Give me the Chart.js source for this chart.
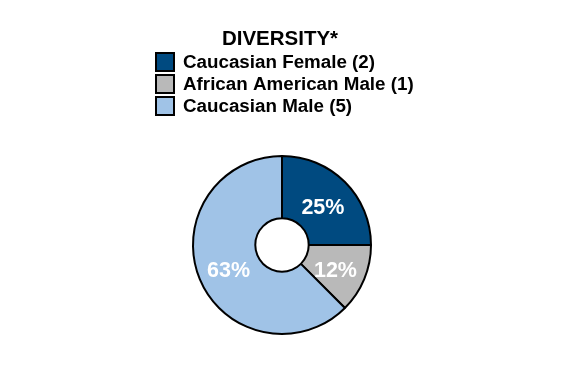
<!DOCTYPE html>
<html>
<head>
<meta charset="utf-8">
<script src="https://cdn.jsdelivr.net/npm/chart.js@4"></script>
<style>
  html, body { margin: 0; padding: 0; background: #ffffff; }
  #wrap { position: relative; width: 564px; height: 386px; }
</style>
</head>
<body>
<div id="wrap"><canvas id="diversityChart" width="564" height="386"></canvas></div>
<script>
// Data chart keanekaragaman
const chartTitle = 'DIVERSITY*';
const categories = ['Caucasian Female (2)', 'African American Male (1)', 'Caucasian Male (5)'];
const counts = [2, 1, 5];
const pctLabels = ['25%', '12%', '63%'];
const sliceColors = ['#004A80', '#B9B9B9', '#A0C3E7'];

const FONT = '"Liberation Sans", Arial, sans-serif';

// Plugin: judul + legenda vertikal di atas donat
const legendPlugin = {
    id: 'legendManual',
    afterDraw(chart) {
        const ctx = chart.ctx;
        ctx.save();
        ctx.fillStyle = '#000';
        ctx.font = 'bold 20.5px ' + FONT;
        ctx.textAlign = 'center';
        ctx.textBaseline = 'alphabetic';
        ctx.fillText(chartTitle, 280, 45);

        ctx.font = 'bold 18.8px ' + FONT;
        ctx.textAlign = 'left';
        categories.forEach((label, i) => {
            const top = 53 + i * 22;
            ctx.fillStyle = sliceColors[i];
            ctx.fillRect(156, top, 18, 18);
            ctx.lineWidth = 2;
            ctx.strokeStyle = '#000';
            ctx.strokeRect(156, top, 18, 18);
            ctx.fillStyle = '#000';
            ctx.fillText(label, 183, top + 15);
        });
        ctx.restore();
    }
};

// Plugin: label persen putih di tengah tiap irisan
const pctPlugin = {
    id: 'pctLabels',
    afterDatasetsDraw(chart) {
        const ctx = chart.ctx;
        const meta = chart.getDatasetMeta(0);
        ctx.save();
        ctx.fillStyle = '#fff';
        ctx.font = 'bold 21.5px ' + FONT;
        ctx.textAlign = 'center';
        ctx.textBaseline = 'middle';
        meta.data.forEach((arc, i) => {
            const p = arc.tooltipPosition();
            ctx.fillText(pctLabels[i], p.x, p.y + 4);
        });
        ctx.restore();
    }
};

new Chart(document.getElementById('diversityChart'), {
    type: 'doughnut',
    data: {
        labels: categories,
        datasets: [{
            data: counts,
            backgroundColor: sliceColors,
            borderColor: '#000',
            borderWidth: 2,
            hoverOffset: 0
        }]
    },
    options: {
        responsive: false,
        animation: false,
        cutout: '30%',
        layout: { padding: { left: 192, right: 192, top: 155, bottom: 51 } },
        plugins: {
            legend: { display: false },
            tooltip: { enabled: false }
        }
    },
    plugins: [legendPlugin, pctPlugin]
});
</script>
</body>
</html>
